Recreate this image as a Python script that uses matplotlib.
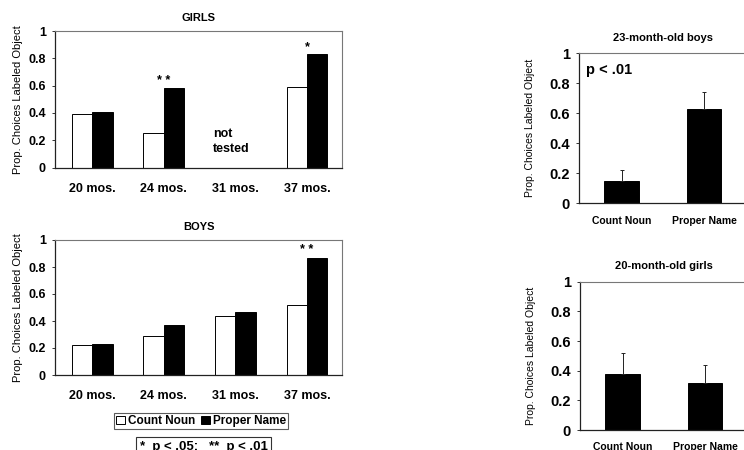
import numpy as np
import matplotlib
matplotlib.use("Agg")
import matplotlib.pyplot as plt
from matplotlib.patches import Patch

plt.rcParams['font.family'] = ['Liberation Sans', 'DejaVu Sans']

# ---------------- data ----------------
ages = ["20 mos.", "24 mos.", "31 mos.", "37 mos."]
girls_count = [0.39, 0.25, np.nan, 0.59]
girls_proper = [0.41, 0.58, np.nan, 0.83]
girls_stars = ["", "* *", "", "*"]
boys_count = [0.22, 0.29, 0.44, 0.52]
boys_proper = [0.23, 0.37, 0.47, 0.87]
boys_stars = ["", "", "", "* *"]

conditions = ["Count Noun", "Proper Name"]
boys23_means = [0.15, 0.63]
boys23_err = [0.07, 0.11]
girls20_means = [0.38, 0.32]
girls20_err = [0.14, 0.12]

yticks = [0, 0.2, 0.4, 0.6, 0.8, 1]
yticklabels = ["0", "0.2", "0.4", "0.6", "0.8", "1"]
ylabel = "Prop. Choices Labeled Object"

W, H = 744, 450
fig = plt.figure(figsize=(W / 100, H / 100), dpi=100)


def px_axes(left, top, right, bottom):
    return fig.add_axes([left / W, 1 - bottom / H, (right - left) / W, (bottom - top) / H])


def style(ax, tick_fs, xtick_pad):
    for s in ['left', 'bottom']:
        ax.spines[s].set_color('#222222')
        ax.spines[s].set_linewidth(0.9)
    for s in ['top', 'right']:
        ax.spines[s].set_color('#777777')
        ax.spines[s].set_linewidth(0.8)
    ax.set_ylim(0, 1)
    ax.set_yticks(yticks)
    ax.set_yticklabels(yticklabels, fontsize=tick_fs, fontweight='bold')
    ax.tick_params(axis='y', length=2.5, width=0.7, pad=4, color='#333333')
    ax.tick_params(axis='x', length=0, pad=xtick_pad)


def age_panel(ax, title, count, proper, stars):
    x = np.arange(len(ages))
    w = 0.285
    ax.bar(x - w / 2, count, w, color='white', edgecolor='black', linewidth=0.7)
    ax.bar(x + w / 2, proper, w, color='black', edgecolor='black', linewidth=0.7)
    ax.set_xlim(-0.52, 3.49)
    style(ax, 9, 11)
    ax.set_xticks(x)
    ax.set_xticklabels(ages, fontsize=9, fontweight='bold')
    ax.set_title(title, fontsize=8, fontweight='bold', pad=7)
    ax.set_ylabel(ylabel, fontsize=8, labelpad=4)
    for xi, s, p in zip(x, stars, proper):
        if s:
            ax.text(xi, p + 0.055, s, ha='center', va='center', fontsize=9, fontweight='bold')


def cond_panel(ax, title, means, errs, note=None):
    x = np.arange(len(conditions))
    ax.bar(x, means, 0.42, color='black', edgecolor='black', linewidth=0.7,
           yerr=[[0] * len(errs), errs], capsize=1.5,
           error_kw=dict(elinewidth=0.7, capthick=0.7, ecolor='#222222'))
    ax.set_xlim(-0.515, 1.52)
    style(ax, 10.5, 9)
    ax.set_xticks(x)
    ax.set_xticklabels(conditions, fontsize=7.5, fontweight='bold')
    ax.set_title(title, fontsize=8, fontweight='bold', pad=9)
    ax.set_ylabel(ylabel, fontsize=7.5, labelpad=10)
    if note:
        ax.text(0.04, 0.89, note, transform=ax.transAxes, ha='left', va='center',
                fontsize=10.5, fontweight='bold')


ax_g = px_axes(55, 31, 342, 167.5)
age_panel(ax_g, "GIRLS", girls_count, girls_proper, girls_stars)
ax_g.text(2 - 0.31, 0.19, "not\ntested", ha='left', va='center', fontsize=9,
          fontweight='bold', linespacing=1.35)

ax_b = px_axes(55, 240, 342, 375)
age_panel(ax_b, "BOYS", boys_count, boys_proper, boys_stars)

ax_r1 = px_axes(579, 53.3, 747, 203.3)
cond_panel(ax_r1, "23-month-old boys", boys23_means, boys23_err, note="p < .01")

ax_r2 = px_axes(580, 281.7, 748, 430)
cond_panel(ax_r2, "20-month-old girls", girls20_means, girls20_err)

# legend
handles = [Patch(facecolor='white', edgecolor='black', linewidth=0.7),
           Patch(facecolor='black', edgecolor='black', linewidth=0.7)]
leg = fig.legend(handles, conditions, loc='center', ncol=2,
                 bbox_to_anchor=(201 / W, 1 - 421 / H),
                 prop=dict(size=8.5, weight='bold'),
                 handlelength=0.75, handleheight=0.75, handletextpad=0.25,
                 columnspacing=0.5, borderpad=0.2, borderaxespad=0,
                 frameon=True, fancybox=False)
leg.get_frame().set_edgecolor('#333333')
leg.get_frame().set_linewidth(0.8)

fig.text(203.5 / W, 1 - 447 / H, "*  p < .05;   **  p < .01", ha='center', va='center',
         fontsize=9.5, fontweight='bold',
         bbox=dict(boxstyle='square,pad=0.3', facecolor='white', edgecolor='#333333', linewidth=0.8))

fig.savefig("out.png", dpi=100)
